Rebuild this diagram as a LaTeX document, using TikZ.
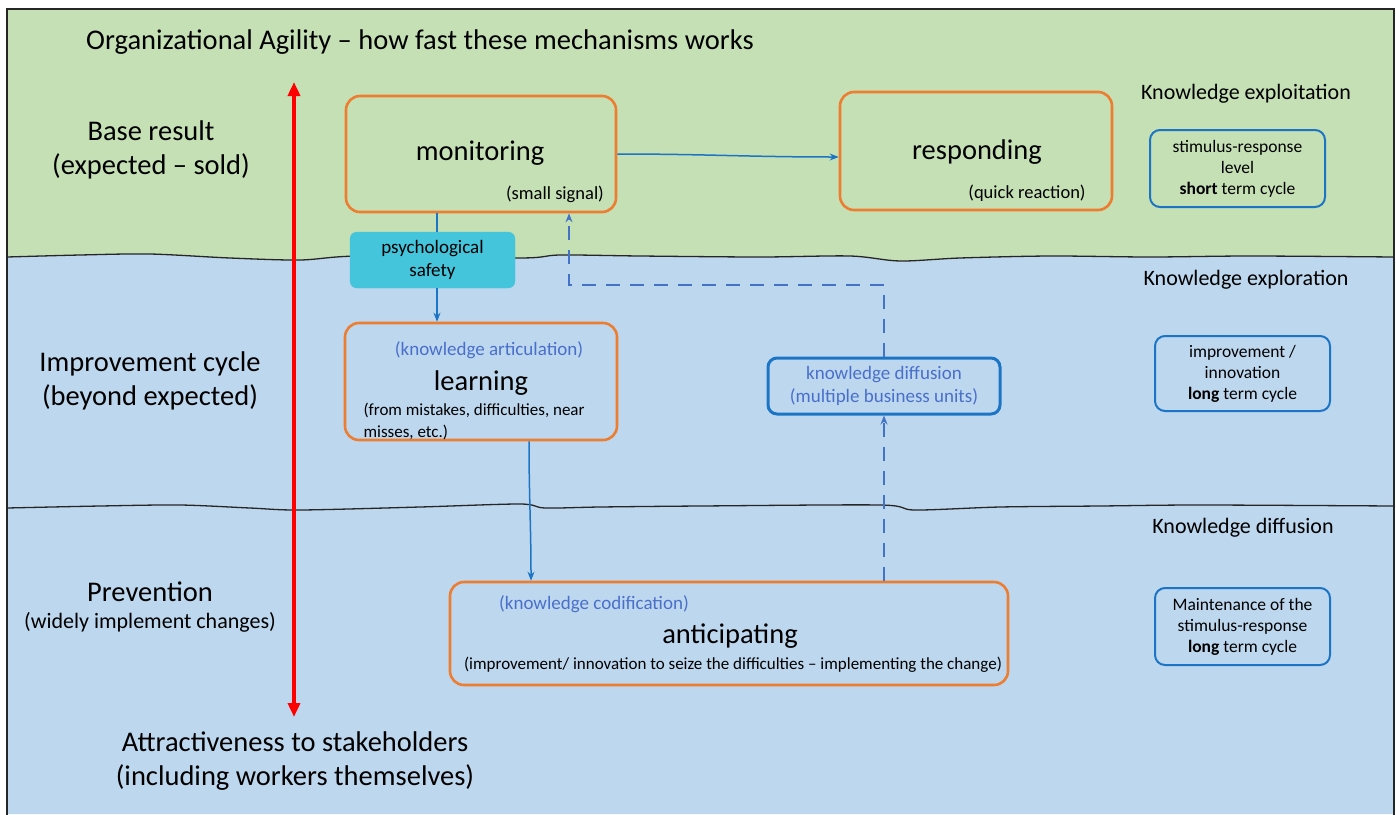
\documentclass[tikz,border=0pt]{standalone}
\usepackage{fontspec}
\setmainfont{Carlito}
\usetikzlibrary{arrows.meta}
\definecolor{bggreen}{HTML}{C5E0B4}
\definecolor{bgblue}{HTML}{BDD7EE}
\definecolor{boxorange}{HTML}{ED7D31}
\definecolor{boxblue}{HTML}{1C75C4}
\definecolor{dashblue}{HTML}{4472C4}
\definecolor{psyfill}{HTML}{45C5DC}
\definecolor{txtblue}{HTML}{4A6FCB}
\definecolor{redarrow}{HTML}{FF0000}
\tikzset{
  obox/.style={draw=boxorange, line width=2.6pt, rounded corners=14pt},
  bbox/.style={draw=boxblue, line width=2pt, rounded corners=10pt, align=center, font=\fontsize{17.5}{21}\selectfont},
  big/.style={font=\fontsize{28.5}{33.5}\selectfont, align=center},
  mid/.style={font=\fontsize{22}{26}\selectfont, align=center},
  small/.style={font=\fontsize{19}{22.5}\selectfont, align=center},
  tiny/.style={font=\fontsize{18.5}{22}\selectfont},
  conn/.style={draw=boxblue, line width=1.5pt},
  dashc/.style={draw=dashblue, line width=2pt, dash pattern=on 14pt off 10pt},
  tip/.style={-{Stealth[length=9pt,width=7pt]}},
  wave/.style={draw=black!85, line width=1.3pt}
}
\begin{document}
\begin{tikzpicture}[x=1pt,y=-1pt]
\useasboundingbox (0,0) rectangle (1396,814);
\fill[white] (0,0) rectangle (1396,814);
% backgrounds
\fill[bggreen] (7,9) rectangle (1394,262);
\fill[bgblue] plot[smooth] coordinates {(7,257) (80,255) (150,254) (230,258) (300,260) (360,256) (520,258) (560,255) (640,256) (760,257) (850,256) (900,261) (960,258) (1050,256) (1150,257) (1250,256) (1394,257)} -- (1394,814) -- (7,814) -- cycle;
\draw[wave] plot[smooth] coordinates {(7,257) (80,255) (150,254) (230,258) (300,260) (360,256) (520,258) (560,255) (640,256) (760,257) (850,256) (900,261) (960,258) (1050,256) (1150,257) (1250,256) (1394,257)};
\draw[wave] plot[smooth] coordinates {(7,508) (100,506) (180,505) (250,508) (300,510) (420,507) (520,504) (545,508) (600,507) (700,506) (880,505) (915,510) (1000,507) (1100,506) (1200,505) (1394,506)};
% frame
\draw[black!85, line width=1.5pt] (7,820) -- (7,9) -- (1394,9) -- (1394,820);

% title and left labels
\node[font=\fontsize{28.5}{34}\selectfont] (title) at (420,42) {Organizational Agility -- how fast these mechanisms works};
\node[big] (base) at (151,150) {Base result\\(expected -- sold)};
\node[big] (impr) at (150,381) {Improvement cycle\\(beyond expected)};
\node[big] (prev) at (150,592) {Prevention};
\node[mid] (prevsub) at (150,622) {(widely implement changes)};
\node[big] (attr) at (295,761) {Attractiveness to stakeholders\\(including workers themselves)};

% red double arrow
\coordinate (rtop) at (294,82);
\coordinate (rbot) at (294,717);
\draw[redarrow, line width=4pt, {Triangle[length=14pt,width=12pt]}-{Triangle[length=14pt,width=12pt]}] (rtop) -- (rbot);

% main boxes
\node[obox, minimum width=270pt, minimum height=116pt] (mon) at (481,154) {};
\node[big] (montxt) at (480,153) {monitoring};
\node[tiny] (monsub) at (555,194) {(small signal)};

\node[obox, minimum width=272pt, minimum height=118pt] (resp) at (976,151) {};
\node[big] (resptxt) at (977,152) {responding};
\node[tiny] (respsub) at (1027,193) {(quick reaction)};

\node[fill=psyfill, draw=psyfill, rounded corners=7pt, minimum width=165pt, minimum height=56pt, small] (psych) at (432.5,260) {psychological\\safety};

\node[obox, minimum width=272pt, minimum height=117pt] (learn) at (481,381.5) {};
\node[small, text=txtblue] (learnk) at (489,350) {(knowledge articulation)};
\node[big] (learntxt) at (481,383) {learning};
\node[font=\fontsize{17}{22}\selectfont, align=left, anchor=west] (learnsub) at (360,421) {(from mistakes, difficulties, near\\misses, etc.)};

\node[obox, minimum width=558pt, minimum height=103pt] (antic) at (729,633.5) {};
\node[small, text=txtblue] (antick) at (594,604) {(knowledge codification)};
\node[big] (antictxt) at (730,636) {anticipating};
\node[font=\fontsize{17}{20}\selectfont] (anticsub) at (733,665) {(improvement/ innovation to seize the difficulties -- implementing the change)};

\node[draw=boxblue, line width=3pt, rounded corners=9pt, minimum width=232pt, minimum height=56pt, small, text=txtblue] (diff) at (884,386) {knowledge diffusion\\(multiple business units)};

% right column
\node[mid] (kexploit) at (1246,94) {Knowledge exploitation};
\node[mid] (kexplor) at (1246,280) {Knowledge exploration};
\node[mid] (kdiff) at (1243,528) {Knowledge diffusion};
\node[bbox, minimum width=175pt, minimum height=77pt] (stim) at (1237.5,168.5) {stimulus-response\\level\\\textbf{short} term cycle};
\node[bbox, minimum width=175pt, minimum height=75pt] (impbox) at (1242.5,373.5) {improvement /\\innovation\\\textbf{long} term cycle};
\node[bbox, minimum width=175pt, minimum height=77pt] (maint) at (1242.5,626.5) {Maintenance of the\\stimulus-response\\\textbf{long} term cycle};

% connectors
\draw[conn, tip] (mon.east) to[out=0, in=180] ([yshift=-6pt]resp.west);
\coordinate (c1) at (437,0);
\draw[conn] (c1 |- mon.south) -- (c1 |- psych.north);
\draw[conn, tip] (c1 |- psych.south) -- (c1 |- learn.north);
\coordinate (c2) at (529,0);
\coordinate (c3) at (531,0);
\draw[conn, tip] (c2 |- learn.south) to[out=-90, in=90] (c3 |- antic.north);
\draw[dashc, tip] (diff.south |- antic.north) -- (diff.south);
\coordinate (d1) at (569,285);
\draw[dashc, tip] (diff.north) |- (d1) -- (d1 |- mon.south);
\end{tikzpicture}
\end{document}
